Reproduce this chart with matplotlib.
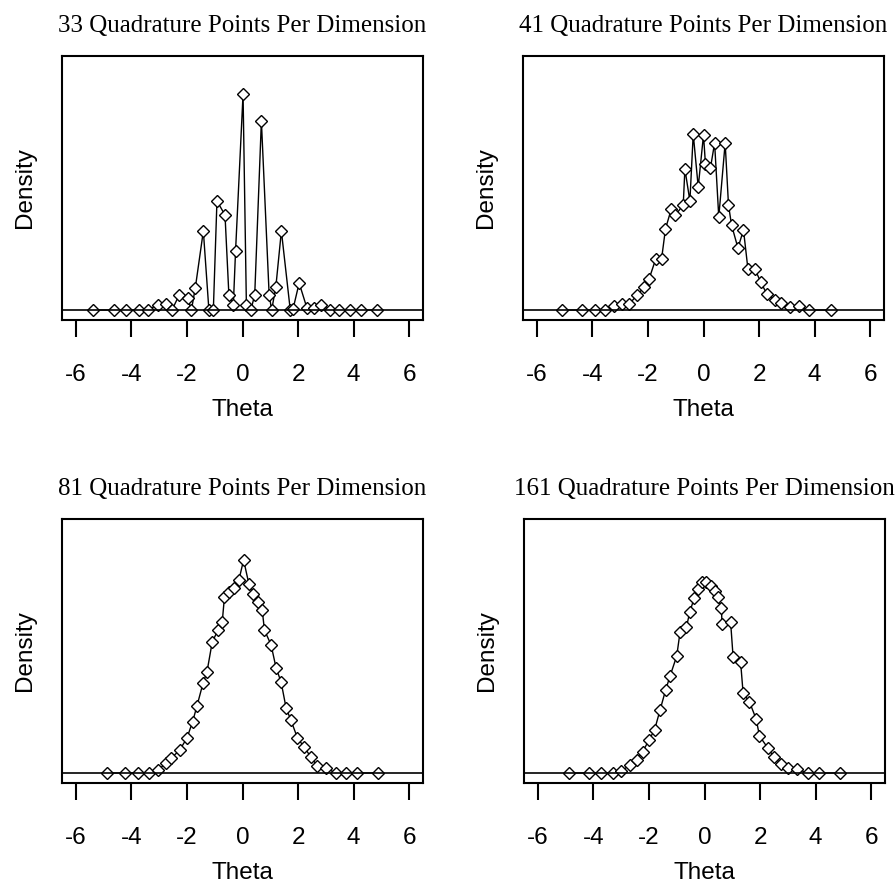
import matplotlib.pyplot as plt

# quadrature point locations (theta) and heights
# heights are in pixel-ish units above the zero line, scaled down below
theta_33 = [-5.37, -4.64, -4.19, -3.72, -3.42, -3.06, -2.76, -2.54, -2.28, -1.98,
            -1.84, -1.70, -1.41, -1.21, -1.05, -0.92, -0.63, -0.49, -0.33, -0.25,
            0.02, 0.14, 0.30, 0.44, 0.68, 0.96, 1.05, 1.20, 1.40, 1.72, 1.82,
            2.04, 2.32, 2.58, 2.83, 3.14, 3.49, 3.86, 4.27, 4.85]
dens_33 = [0, 0, 0, 0, 0, 5, 6, 0, 15, 12,
           0, 22, 79, 0, 0, 109, 95, 15, 5, 59,
           216, 5, 0, 15, 189, 15, 0, 23, 79, 0, 1,
           27, 2, 2, 5, 0, 0, 0, 0, 0]

theta_41 = [-5.10, -4.38, -3.91, -3.54, -3.24, -2.94, -2.68, -2.38, -2.14, -1.96,
            -1.72, -1.51, -1.37, -1.16, -1.01, -0.73, -0.67, -0.49, -0.37, -0.19,
            0.00, 0.07, 0.25, 0.40, 0.55, 0.78, 0.90, 1.01, 1.24, 1.44,
            1.60, 1.85, 2.06, 2.28, 2.56, 2.78, 3.11, 3.43, 3.80, 4.58]
dens_41 = [0, 0, 0, 0, 4, 6, 6, 15, 23, 31,
           51, 51, 81, 101, 95, 105, 141, 109, 176, 123,
           175, 146, 142, 167, 93, 167, 105, 85, 62, 80,
           41, 41, 28, 16, 10, 7, 3, 4, 0, 0]

theta_81 = [-4.89, -4.23, -3.75, -3.36, -3.03, -2.76, -2.56, -2.26, -2.00, -1.80,
            -1.64, -1.42, -1.28, -1.09, -0.88, -0.73, -0.65, -0.47, -0.32, -0.13,
            0.04, 0.23, 0.37, 0.55, 0.71, 0.79, 1.03, 1.21, 1.39, 1.57,
            1.74, 1.98, 2.22, 2.46, 2.70, 3.00, 3.36, 3.72, 4.13, 4.89]
dens_81 = [0, 0, 0, 0, 3, 10, 15, 23, 35, 51,
           67, 90, 101, 131, 143, 151, 176, 181, 185, 193,
           213, 189, 179, 171, 163, 143, 128, 105, 91, 65,
           53, 35, 26, 16, 7, 5, 0, 0, 0, 0]

theta_161 = [-4.89, -4.17, -3.72, -3.31, -3.00, -2.68, -2.44, -2.23, -2.00, -1.80,
             -1.60, -1.40, -1.24, -1.00, -0.88, -0.65, -0.53, -0.37, -0.23, -0.08,
             0.07, 0.23, 0.37, 0.47, 0.61, 0.63, 0.94, 1.03, 1.30, 1.39,
             1.62, 1.86, 1.98, 2.28, 2.50, 2.76, 3.02, 3.33, 3.72, 4.13, 4.89]
dens_161 = [0, 0, 0, 0, 2, 8, 13, 21, 33, 43,
            63, 83, 97, 117, 141, 146, 161, 175, 184, 191,
            191, 187, 182, 176, 165, 149, 151, 116, 111, 80,
            71, 54, 37, 25, 16, 9, 5, 4, 0, 0, 0]

titles = ["33 Quadrature Points Per Dimension", "41 Quadrature Points Per Dimension",
          "81 Quadrature Points Per Dimension", "161 Quadrature Points Per Dimension"]
thetas = [theta_33, theta_41, theta_81, theta_161]
denses = [dens_33, dens_41, dens_81, dens_161]
xticks = [-6, -4, -2, 0, 2, 4, 6]

W, H = 896, 892
fig = plt.figure(figsize=(W / 100, H / 100), dpi=100)

# box positions in pixels: left, top, right, bottom
boxes = [(62, 56, 423, 320), (523, 56, 884, 320),
         (62, 519, 423, 783), (524, 519, 885, 783)]

for i in range(4):
    l, t, r, b = boxes[i]
    ax = fig.add_axes([l / W, 1 - b / H, (r - l) / W, (b - t) / H])
    y = [d / 1000 for d in denses[i]]
    ax.plot(thetas[i], y, color="black", lw=1, marker="D", ms=6,
            mfc="white", mec="black", mew=1)
    ax.axhline(0, color="black", lw=1.2)
    ax.set_xlim(-6.5, 6.5)
    ax.set_ylim(-0.010, 0.254)
    ax.set_xticks(xticks)
    ax.set_xticklabels([str(v) for v in xticks], family="Liberation Sans", fontsize=17.5)
    ax.set_yticks([])
    ax.tick_params(axis="x", direction="out", length=12, width=1.5, pad=20)
    for s in ax.spines.values():
        s.set_linewidth(1.5)
    ax.set_title(titles[i], family="Liberation Serif", fontsize=18, pad=17)
    ax.set_xlabel("Theta", family="Liberation Sans", fontsize=17.5, labelpad=9)
    ax.set_ylabel("Density", family="Liberation Sans", fontsize=17.5, labelpad=19)

fig.savefig("out.png", dpi=100)
